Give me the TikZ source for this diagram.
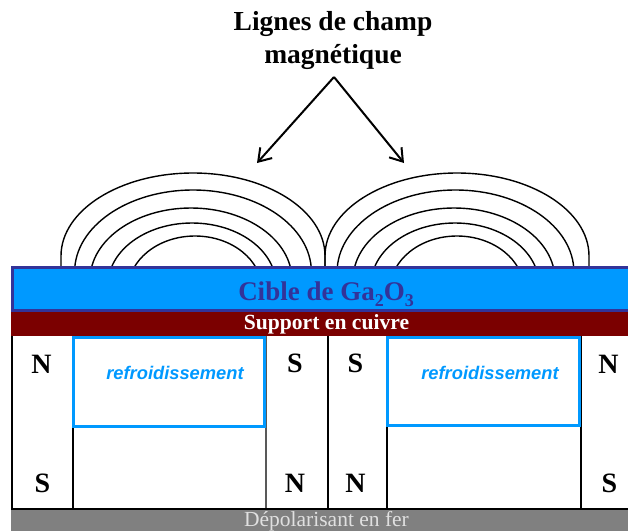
\documentclass[tikz,border=0pt]{standalone}
\usepackage{fontspec}
\setmainfont{Liberation Serif}
\setsansfont{Liberation Sans}
\usetikzlibrary{arrows.meta}
\definecolor{cibleblue}{HTML}{0099FF}
\definecolor{cibleedge}{HTML}{333399}
\definecolor{support}{HTML}{7B0000}
\definecolor{fer}{HTML}{808080}
\newcommand{\basindex}[1]{\raisebox{-6pt}{\fontsize{18}{18}\selectfont #1}}
\tikzset{
  fieldline/.style={draw=black,line width=1.4pt},
  magline/.style={draw=black,line width=1.2pt},
  coolbox/.style={draw=cibleblue,line width=3pt},
  fieldarrow/.style={draw=black,line width=2pt,-{Straight Barb[length=12pt,width=16pt,line width=2pt]}},
  pole/.style={font=\bfseries\fontsize{28}{28}\selectfont,text=black,inner sep=0pt,anchor=center},
  cooltext/.style={font=\sffamily\bfseries\itshape\fontsize{18.3}{19}\selectfont,text=cibleblue,inner sep=0pt,anchor=center}
}
\begin{document}
\begin{tikzpicture}[x=1pt,y=-1pt]
\useasboundingbox (0,0) rectangle (628,531);
% field lines
\begin{scope}
\clip (0,0) rectangle (628,267);
\foreach \c/\rx/\ry/\cy in {195/67/54/290,192/84/62/285,191/101/72/280,193/118.4/82/272,
                            457/67/54/290,455/84/62/285,454/101/72/280,455.5/118.4/82/272}{
  \draw[fieldline] (\c,\cy) ellipse [x radius=\rx, y radius=\ry];
}
\draw[fieldline] (61,268) -- (61,256) arc [start angle=180,end angle=0,x radius=132,y radius=-83] -- (325,268);
\draw[fieldline] (325,268) -- (325,256) arc [start angle=180,end angle=0,x radius=132,y radius=-83] -- (589,268);
\end{scope}
% magnet cells
\draw[magline] (12,336) -- (12,509);
\draw[magline] (73,336) -- (73,509);
\draw[magline,draw=black!65] (266,336) -- (266,509);
\draw[magline,line width=2pt] (327.5,336) -- (327.5,509);
\draw[magline] (387,336) -- (387,509);
\draw[magline] (581,336) -- (581,509);
% layers
\fill[cibleblue] (12,267) rectangle (630,311);
\draw[cibleedge,line width=2.6pt] (632,267.5) -- (12.5,267.5) -- (12.5,310.5) -- (632,310.5);
\fill[support] (11,311.5) rectangle (628,336);
\fill[fer] (11,509) rectangle (628,531);
\draw[black,line width=1.1pt] (11,509) -- (628,509);
% cooling boxes
\fill[white] (74,337.5) rectangle (264.5,426);
\draw[coolbox] (73.5,337.5) rectangle (264.5,426.5);
\draw[coolbox] (387.5,337) rectangle (579.5,425.5);
% labels
\node[font=\bfseries\fontsize{27.5}{33}\selectfont,align=center,inner sep=0pt] (titre) at (333,40.5) {Lignes de champ\\magnétique};
\node[font=\bfseries\fontsize{27}{27}\selectfont,text=cibleedge,inner sep=0pt,anchor=base] (cible) at (326,300) {Cible de Ga\basindex{2}O\basindex{3}};
\node[font=\bfseries\fontsize{21.6}{22}\selectfont,text=white,inner sep=0pt] (support) at (326.5,324) {Support en cuivre};
\node[font=\fontsize{21.5}{22}\selectfont,text=white!88!black,inner sep=0pt] (fer) at (326.5,521) {Dépolarisant en fer};
\node[cooltext] (r1) at (175,373) {refroidissement};
\node[cooltext] (r2) at (490,373) {refroidissement};
\node[pole] (n1) at (41.5,364) {N};
\node[pole] (s1) at (42.5,483) {S};
\node[pole] (s2) at (295,363.5) {S};
\node[pole] (n2) at (295,483) {N};
\node[pole] (s3) at (355.5,363.5) {S};
\node[pole] (n3) at (355.5,483) {N};
\node[pole] (n4) at (608.5,364) {N};
\node[pole] (s4) at (609.5,483) {S};
% arrows
\coordinate (apex) at (334,77);
\coordinate (tipL) at (257,163);
\coordinate (tipR) at (404,163);
\draw[fieldarrow] (apex) -- (tipL);
\draw[fieldarrow] (apex) -- (tipR);
\end{tikzpicture}
\end{document}
